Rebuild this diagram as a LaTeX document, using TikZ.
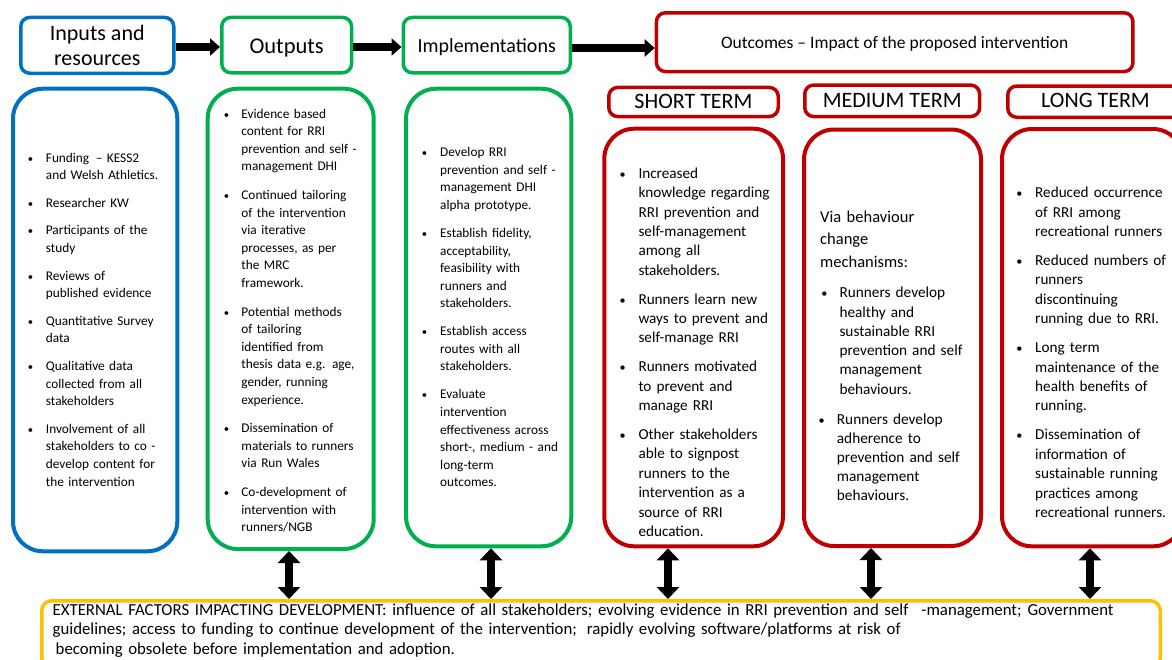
\documentclass[tikz,border=0pt]{standalone}
\usepackage{fontspec}
\setmainfont{Carlito}
\usetikzlibrary{arrows.meta}
\definecolor{cblue}{RGB}{0,112,192}
\definecolor{cgreen}{RGB}{0,176,80}
\definecolor{cred}{RGB}{192,0,0}
\definecolor{corange}{RGB}{255,192,0}
\newlength\bwd
\newlength\igap
% one bulleted paragraph with a hanging indent
\newcommand\bitem[1]{\hangindent=\bwd\hangafter=1\noindent\makebox[\bwd][l]{\scalebox{0.8}{•}}#1\par\vspace{\igap}}
\newcommand\fs[2]{\fontsize{#1}{#2}\selectfont}

\begin{document}
\begin{tikzpicture}[x=1pt,y=-1pt,
  hdr/.style={draw=#1, line width=3.5pt, rounded corners=9pt, inner sep=0pt, align=center},
  colbox/.style={draw=#1, line width=4pt, rounded corners=30pt, inner sep=0pt},
  lst/.style={anchor=base west, inner sep=0pt, align=left, text width=#1},
  harrow/.style={line width=8pt, -{Triangle[length=10pt,width=17pt]}},
  dbl/.style={line width=8pt, {Triangle[length=12pt,width=22pt]}-{Triangle[length=12pt,width=22pt]}}
]
\useasboundingbox (0,0) rectangle (1172,659);
\fill[white] (0,0) rectangle (1172,659);

% ---- top row of headers
\node[hdr=cblue, minimum width=153, minimum height=55.8, font=\fs{22}{25.7}] (inh) at (97.25,45.35) {Inputs and\\resources};
\node[hdr=cgreen, minimum width=129.8, minimum height=55.3, font=\fs{22.5}{27}, text height=16.2, text depth=0] (outh) at (286.65,45.1) {Outputs};
\node[hdr=cgreen, minimum width=167, minimum height=55.3, font=\fs{20}{24}, text height=14.4, text depth=0] (imph) at (486.75,45.1) {Implementations};
\node[hdr=cred, minimum width=476.5, minimum height=58.8, font=\fs{17.5}{21}, text height=12.3, text depth=0] (outc) at (894.7,42.15) {Outcomes – Impact of the proposed intervention};

\draw[harrow] (inh.east |- 0,47) -- (outh.west |- 0,47);
\draw[harrow] (outh.east |- 0,47) -- (imph.west |- 0,47);
\draw[harrow] (imph.east |- 0,48) -- (outc.west |- 0,48);

% ---- term labels
\node[hdr=cred, minimum width=169.5, minimum height=29.1, font=\fs{22}{26}, text height=12.6, text depth=0] (sth) at (693.5,102) {SHORT TERM};
\node[hdr=cred, minimum width=174.9, minimum height=31.5, font=\fs{22}{26}, text height=12.6, text depth=0] (mth) at (892.2,100.8) {MEDIUM TERM};
\node[hdr=cred, minimum width=175.5, minimum height=31.2, font=\fs{22}{26}, text height=12.6, text depth=0] (lth) at (1095.5,101.65) {LONG TERM};

% ---- column boxes
\node[colbox=cblue, minimum width=164.3, minimum height=462.6] (inc) at (95.15,320) {};
\node[colbox=cgreen, minimum width=166, minimum height=460.3] (opc) at (290.7,318.85) {};
\node[colbox=cgreen, minimum width=165.3, minimum height=457.6] (imc) at (488.65,317.5) {};
\node[colbox=cred, minimum width=178.7, minimum height=417.6] (stc) at (693.65,337.5) {};
\node[colbox=cred, minimum width=177, minimum height=416.5] (mtc) at (892.5,337.75) {};
\node[colbox=cred, minimum width=181, minimum height=417.3] (ltc) at (1092.5,337.65) {};

% ---- external factors
\node[draw=corange, line width=3.5pt, rounded corners=10pt, inner sep=0pt, minimum width=1118.5, minimum height=67.5] (ext) at (601,634.5) {};

\draw[dbl] (opc.south -| 289,0) -- (ext.north -| 289,0);
\draw[dbl] (imc.south -| 491,0) -- (ext.north -| 491,0);
\draw[dbl] (stc.south -| 668,0) -- (ext.north -| 668,0);
\draw[dbl] (mtc.south -| 871,0) -- (ext.north -| 871,0);
\draw[dbl] (ltc.south -| 1090,0) -- (ext.north -| 1090,0);

% ---- column texts
\node[lst=150, font=\fs{13.3}{17.6}] (intx) at (27.7,162) {\setlength\bwd{18pt}\setlength\igap{10pt}%
\bitem{Funding \,– KESS2\newline and Welsh Athletics.}%
\bitem{Researcher KW}%
\bitem{Participants of the\newline study}%
\bitem{Reviews of\newline published evidence}%
\bitem{Quantitative Survey\newline data}%
\bitem{Qualitative data\newline collected from all\newline stakeholders}%
\bitem{Involvement of all\newline stakeholders to co -\newline develop content for\newline the intervention}};

\node[lst=160, font=\fs{13.3}{17.6}] (optx) at (223.7,118) {\setlength\bwd{17.5pt}\setlength\igap{11pt}%
\bitem{Evidence based\newline content for RRI\newline prevention and self -\newline management DHI}%
\bitem{Continued tailoring\newline of the intervention\newline via iterative\newline processes, as per\newline the MRC\newline framework.}%
\bitem{Potential methods\newline of tailoring\newline identified from\newline thesis data e.g. age,\newline gender, running\newline experience.}%
\bitem{Dissemination of\newline materials to runners\newline via Run Wales}%
\bitem{Co-development of\newline intervention with\newline runners/NGB}};

\node[lst=160, font=\fs{13.3}{17.6}] (imtx) at (421.7,156.7) {\setlength\bwd{18.3pt}\setlength\igap{10.3pt}%
\bitem{Develop RRI\newline prevention and self -\newline management DHI\newline alpha prototype.}%
\bitem{Establish fidelity,\newline acceptability,\newline feasibility with\newline runners and\newline stakeholders.}%
\bitem{Establish access\newline routes with all\newline stakeholders.}%
\bitem{Evaluate\newline intervention\newline effectiveness across\newline short-, medium - and\newline long-term\newline outcomes.}};

\node[lst=175, font=\fs{15.2}{19.35}] (sttx) at (619.5,178.3) {\setlength\bwd{18.8pt}\setlength\igap{9.7pt}%
\bitem{Increased\newline knowledge regarding\newline RRI prevention and\newline self-management\newline among all\newline stakeholders.}%
\bitem{Runners learn new\newline ways to prevent and\newline self-manage RRI}%
\bitem{Runners motivated\newline to prevent and\newline manage RRI}%
\bitem{Other stakeholders\newline able to signpost\newline runners to the\newline intervention as a\newline source of RRI\newline education.}};

\node[lst=160, font=\fs{16.5}{22.5}] (mtin) at (820,222.3) {Via behaviour\newline change\newline mechanisms:};
\node[lst=170, font=\fs{15.3}{19.3}] (mtb1) at (821.2,297.7) {\setlength\bwd{18.1pt}\setlength\igap{0pt}%
\bitem{Runners develop\newline healthy and\newline sustainable RRI\newline prevention and self\newline management\newline behaviours.}};
\node[lst=170, font=\fs{15.3}{19.2}] (mtb2) at (818.5,424) {\setlength\bwd{18.2pt}\setlength\igap{0pt}%
\bitem{Runners develop\newline adherence to\newline prevention and self\newline management\newline behaviours.}};

\node[lst=170, font=\fs{15.2}{19.4}] (lttx) at (1016.2,197.7) {\setlength\bwd{18.8pt}\setlength\igap{9.6pt}%
\bitem{Reduced occurrence\newline of RRI among\newline recreational runners}%
\bitem{Reduced numbers of\newline runners\newline discontinuing\newline running due to RRI.}%
\bitem{Long term\newline maintenance of the\newline health benefits of\newline running.}%
\bitem{Dissemination of\newline information of\newline sustainable running\newline practices among\newline recreational runners.}};

\node[lst=1115, font=\fs{16.8}{19.7}] (extx) at (52.5,615) {EXTERNAL FACTORS IMPACTING DEVELOPMENT: influence of all stakeholders; evolving evidence in RRI prevention and self\hspace{13pt}-management;\hspace{6pt}Government\newline
guidelines; access to funding to continue development of the intervention;\hspace{10pt}rapidly evolving software/platforms at risk of\newline
\hspace*{3pt}becoming obsolete before implementation and adoption.};
\end{tikzpicture}
\end{document}
